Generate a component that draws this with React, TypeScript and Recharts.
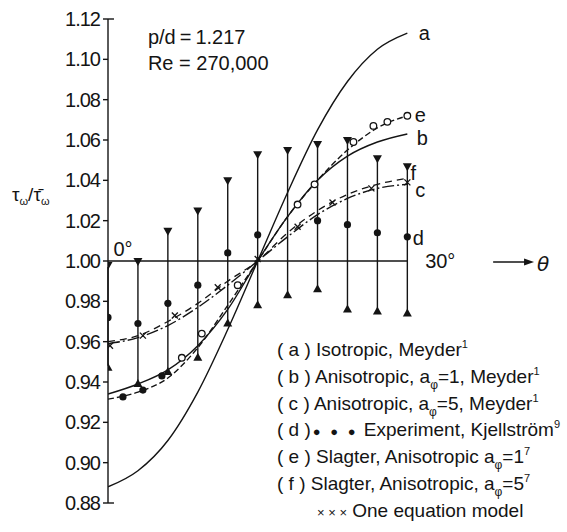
import React from "react";
import {
  ComposedChart,
  Line,
  Scatter,
  XAxis,
  YAxis,
  ErrorBar,
  ReferenceLine,
  ReferenceDot,
  Legend,
} from "recharts";

// angular position, degrees
const theta = [0, 3, 6, 9, 12, 15, 18, 21, 24, 27, 30];

// experimental scatter band (Kjellström) - upper / lower limits
const barTop = [0.997, 0.999, 1.014, 1.024, 1.039, 1.052, 1.054, 1.057, 1.059, 1.05, 1.046];
const barBottom = [0.948, 0.94, 0.946, 0.953, 0.97, 0.979, 0.984, 0.987, 0.977, 0.976, 0.975];
const experiment = [0.972, 0.969, 0.979, 0.988, 1.004, 1.013, null, 1.02, 1.018, 1.014, 1.012];

// computed curves
const curveA = [0.888, 0.896, 0.911, 0.935, 0.966, 1.0, 1.034, 1.065, 1.089, 1.105, 1.113];
const curveB = [0.934, 0.939, 0.946, 0.958, 0.976, 1.0, 1.022, 1.04, 1.052, 1.059, 1.063];
const curveC = [0.959, 0.962, 0.968, 0.977, 0.988, 1.0, 1.012, 1.023, 1.031, 1.036, 1.038];
const curveE = [0.9315, 0.935, 0.942, 0.957, 0.978, 1.0, 1.022, 1.04, 1.055, 1.066, 1.072];
const curveF = [0.96, 0.963, 0.97, 0.979, 0.99, 1.0, 1.014, 1.025, 1.033, 1.038, 1.041];

// markers along curve e
const eCircleTheta = [7.4, 9.4, 13.0, 19.0, 20.7, 24.6, 26.6, 28.0, 30.0];
const eCircleValue = [0.952, 0.964, 0.988, 1.028, 1.038, 1.059, 1.067, 1.069, 1.072];
const eDotTheta = [1.5, 3.5, 5.4];
const eDotValue = [0.9326, 0.936, 0.943];

// one equation model
const oneEqTheta = [0.2, 3.5, 6.7, 11.0, 15.0, 19.0, 22.5, 26.4, 30.0];
const oneEqValue = [0.958, 0.963, 0.973, 0.987, 1.001, 1.017, 1.029, 1.036, 1.039];

const yTicks = [0.88, 0.9, 0.92, 0.94, 0.96, 0.98, 1.0, 1.02, 1.04, 1.06, 1.08, 1.1, 1.12];

const INK = "#141414";
const FONT = "'Liberation Sans', Arial, sans-serif";

const toPoints = (xs: number[], ys: (number | null)[]) =>
  xs.map((x, i) => ({ x, y: ys[i] })).filter((p) => p.y !== null);

const barData = theta.map((x, i) => ({
  x,
  y: barTop[i],
  err: [barTop[i] - barBottom[i], 0],
}));
const barBottomData = toPoints(theta, barBottom);
const expData = toPoints(theta, experiment);

const DownTri = (p: any) => (
  <polygon
    points={`${p.cx - 4.5},${p.cy - 5} ${p.cx + 4.5},${p.cy - 5} ${p.cx},${p.cy + 3}`}
    fill={INK}
  />
);
const UpTri = (p: any) => (
  <polygon
    points={`${p.cx - 4.5},${p.cy + 5} ${p.cx + 4.5},${p.cy + 5} ${p.cx},${p.cy - 3}`}
    fill={INK}
  />
);
const FilledDot = (p: any) => <circle cx={p.cx} cy={p.cy} r={3.6} fill={INK} />;
const OpenDot = (p: any) => (
  <circle cx={p.cx} cy={p.cy} r={3.3} fill="#fff" stroke={INK} strokeWidth={1.3} />
);
const Cross = (p: any) => (
  <g stroke={INK} strokeWidth={1.3}>
    <line x1={p.cx - 3} y1={p.cy - 3} x2={p.cx + 3} y2={p.cy + 3} />
    <line x1={p.cx - 3} y1={p.cy + 3} x2={p.cx + 3} y2={p.cy - 3} />
  </g>
);
const ArrowHead = (p: any) => (
  <polygon points={`${p.cx - 9},${p.cy - 3.5} ${p.cx + 1},${p.cy} ${p.cx - 9},${p.cy + 3.5}`} fill={INK} />
);

const YLabel = (props: any) => {
  const vb = props.viewBox;
  const x = vb.x + 12;
  const y = vb.y + 182;
  return (
    <text x={x} y={y} fontSize={19} fontFamily={FONT} fill={INK}>
      τ
      <tspan fontSize={11} dy={4}>ω</tspan>
      <tspan dy={-4}>/</tspan>
      <tspan>τ̄</tspan>
      <tspan fontSize={11} dy={4}>ω</tspan>
    </text>
  );
};

const Sub = ({ children }: any) => (
  <span style={{ fontSize: 12, position: "relative", top: 6, lineHeight: 0 }}>{children}</span>
);
const Sup = ({ children }: any) => (
  <span style={{ fontSize: 11, position: "relative", top: -8, lineHeight: 0 }}>{children}</span>
);

const legendLines = [
  <>( a ) Isotropic, Meyder<Sup>1</Sup></>,
  <>( b ) Anisotropic, a<Sub>φ</Sub>=1, Meyder<Sup>1</Sup></>,
  <>( c ) Anisotropic, a<Sub>φ</Sub>=5, Meyder<Sup>1</Sup></>,
  <>( d )<span style={{ fontSize: 13, lineHeight: 0, letterSpacing: 3, marginLeft: 2 }}>● ● ●</span> Experiment, Kjellström<Sup>9</Sup></>,
  <>( e ) Slagter, Anisotropic a<Sub>φ</Sub>=1<Sup>7</Sup></>,
  <>( f ) Slagter, Anisotropic, a<Sub>φ</Sub>=5<Sup>7</Sup></>,
  <><span style={{ marginLeft: 40, fontSize: 13, lineHeight: 0 }}>× × ×</span> One equation model</>,
];

const LegendBox = () => (
  <div style={{ fontFamily: FONT, fontSize: 19, color: INK, lineHeight: "26.8px", whiteSpace: "nowrap" }}>
    {legendLines.map((l, i) => (
      <div key={i} style={{ height: 26.8 }}>{l}</div>
    ))}
  </div>
);

const lbl = (value: string, extra: any = {}) => ({
  value,
  position: "center" as const,
  fontSize: 20,
  fontFamily: FONT,
  fill: INK,
  ...extra,
});

export default function App() {
  return (
    <div style={{ position: "absolute", left: 0, top: 0, background: "#fff" }}>
      <ComposedChart width={567} height={532} margin={{ top: 19, right: 10, bottom: 29, left: 0 }}>
        <XAxis dataKey="x" type="number" domain={[0, 45]} allowDataOverflow hide />
        <YAxis
          dataKey="y"
          type="number"
          domain={[0.88, 1.12]}
          ticks={yTicks}
          interval={0}
          width={108}
          tickSize={5}
          tickMargin={3}
          tickFormatter={(v: number) => v.toFixed(2)}
          tick={{ fontSize: 20, fill: INK, fontFamily: FONT, letterSpacing: -1 }}
          axisLine={{ stroke: INK, strokeWidth: 1.4 }}
          tickLine={{ stroke: INK, strokeWidth: 1.4 }}
          allowDataOverflow
          label={YLabel}
        />

        <ReferenceLine segment={[{ x: 0, y: 1.0 }, { x: 30, y: 1.0 }]} stroke={INK} strokeWidth={1.4} />
        <ReferenceLine segment={[{ x: 0, y: 1.12 }, { x: 0.6, y: 1.12 }]} stroke={INK} strokeWidth={1.4} />
        <ReferenceLine segment={[{ x: 0, y: 0.88 }, { x: 0.6, y: 0.88 }]} stroke={INK} strokeWidth={1.4} />

        <Line data={toPoints(theta, curveA)} dataKey="y" type="monotone" dot={false} stroke={INK} strokeWidth={1.4} isAnimationActive={false} />
        <Line data={toPoints(theta, curveB)} dataKey="y" type="monotone" dot={false} stroke={INK} strokeWidth={1.4} isAnimationActive={false} />
        <Line data={toPoints(theta, curveC)} dataKey="y" type="monotone" dot={false} stroke={INK} strokeWidth={1.4} strokeDasharray="12 3 2 3" isAnimationActive={false} />
        <Line data={toPoints(theta, curveE)} dataKey="y" type="monotone" dot={false} stroke={INK} strokeWidth={1.4} strokeDasharray="6 3" isAnimationActive={false} />
        <Line data={toPoints(theta, curveF)} dataKey="y" type="monotone" dot={false} stroke={INK} strokeWidth={1.3} strokeDasharray="7 5" isAnimationActive={false} />

        <Scatter data={barData} dataKey="y" shape={DownTri} isAnimationActive={false}>
          <ErrorBar dataKey="err" direction="y" width={0} stroke={INK} strokeWidth={1.4} />
        </Scatter>
        <Scatter data={barBottomData} dataKey="y" shape={UpTri} isAnimationActive={false} />
        <Scatter data={expData} dataKey="y" shape={FilledDot} isAnimationActive={false} />
        <Scatter data={toPoints(eCircleTheta, eCircleValue)} dataKey="y" shape={OpenDot} isAnimationActive={false} />
        <Scatter data={toPoints(eDotTheta, eDotValue)} dataKey="y" shape={FilledDot} isAnimationActive={false} />
        <Scatter data={toPoints(oneEqTheta, oneEqValue)} dataKey="y" shape={Cross} isAnimationActive={false} />

        <ReferenceDot x={4.0} y={1.111} r={0} stroke="none" label={lbl("p/d\u2009=\u20091.217", { position: "right", offset: 0 })} />
        <ReferenceDot x={4.0} y={1.0982} r={0} stroke="none" label={lbl("Re = 270,000", { position: "right", offset: 0 })} />

        <ReferenceDot x={31.7} y={1.113} r={0} stroke="none" label={lbl("a")} />
        <ReferenceDot x={31.3} y={1.0726} r={0} stroke="none" label={lbl("e")} />
        <ReferenceDot x={31.5} y={1.0612} r={0} stroke="none" label={lbl("b")} />
        <ReferenceDot x={30.6} y={1.0436} r={0} stroke="none" label={lbl("f")} />
        <ReferenceDot x={31.3} y={1.0353} r={0} stroke="none" label={lbl("c")} />
        <ReferenceDot x={31.1} y={1.0115} r={0} stroke="none" label={lbl("d")} />
        <ReferenceDot x={1.5} y={1.0058} r={0} stroke="none" label={lbl("0°")} />
        <ReferenceDot x={33.3} y={1.0} r={0} stroke="none" label={lbl("30°")} />

        <ReferenceLine segment={[{ x: 38.6, y: 0.9995 }, { x: 42.0, y: 0.9995 }]} stroke={INK} strokeWidth={1.4} />
        <ReferenceDot x={42.6} y={0.9995} r={0} shape={ArrowHead} />
        <ReferenceDot x={43.6} y={0.9985} r={0} stroke="none" label={lbl("θ", { fontStyle: "italic", fontFamily: "'DejaVu Sans', sans-serif" })} />

        <Legend
          layout="horizontal"
          verticalAlign="middle"
          align="center"
          content={LegendBox}
          wrapperStyle={{ left: 277, top: 337, width: 290, height: 190 }}
        />
      </ComposedChart>
    </div>
  );
}
